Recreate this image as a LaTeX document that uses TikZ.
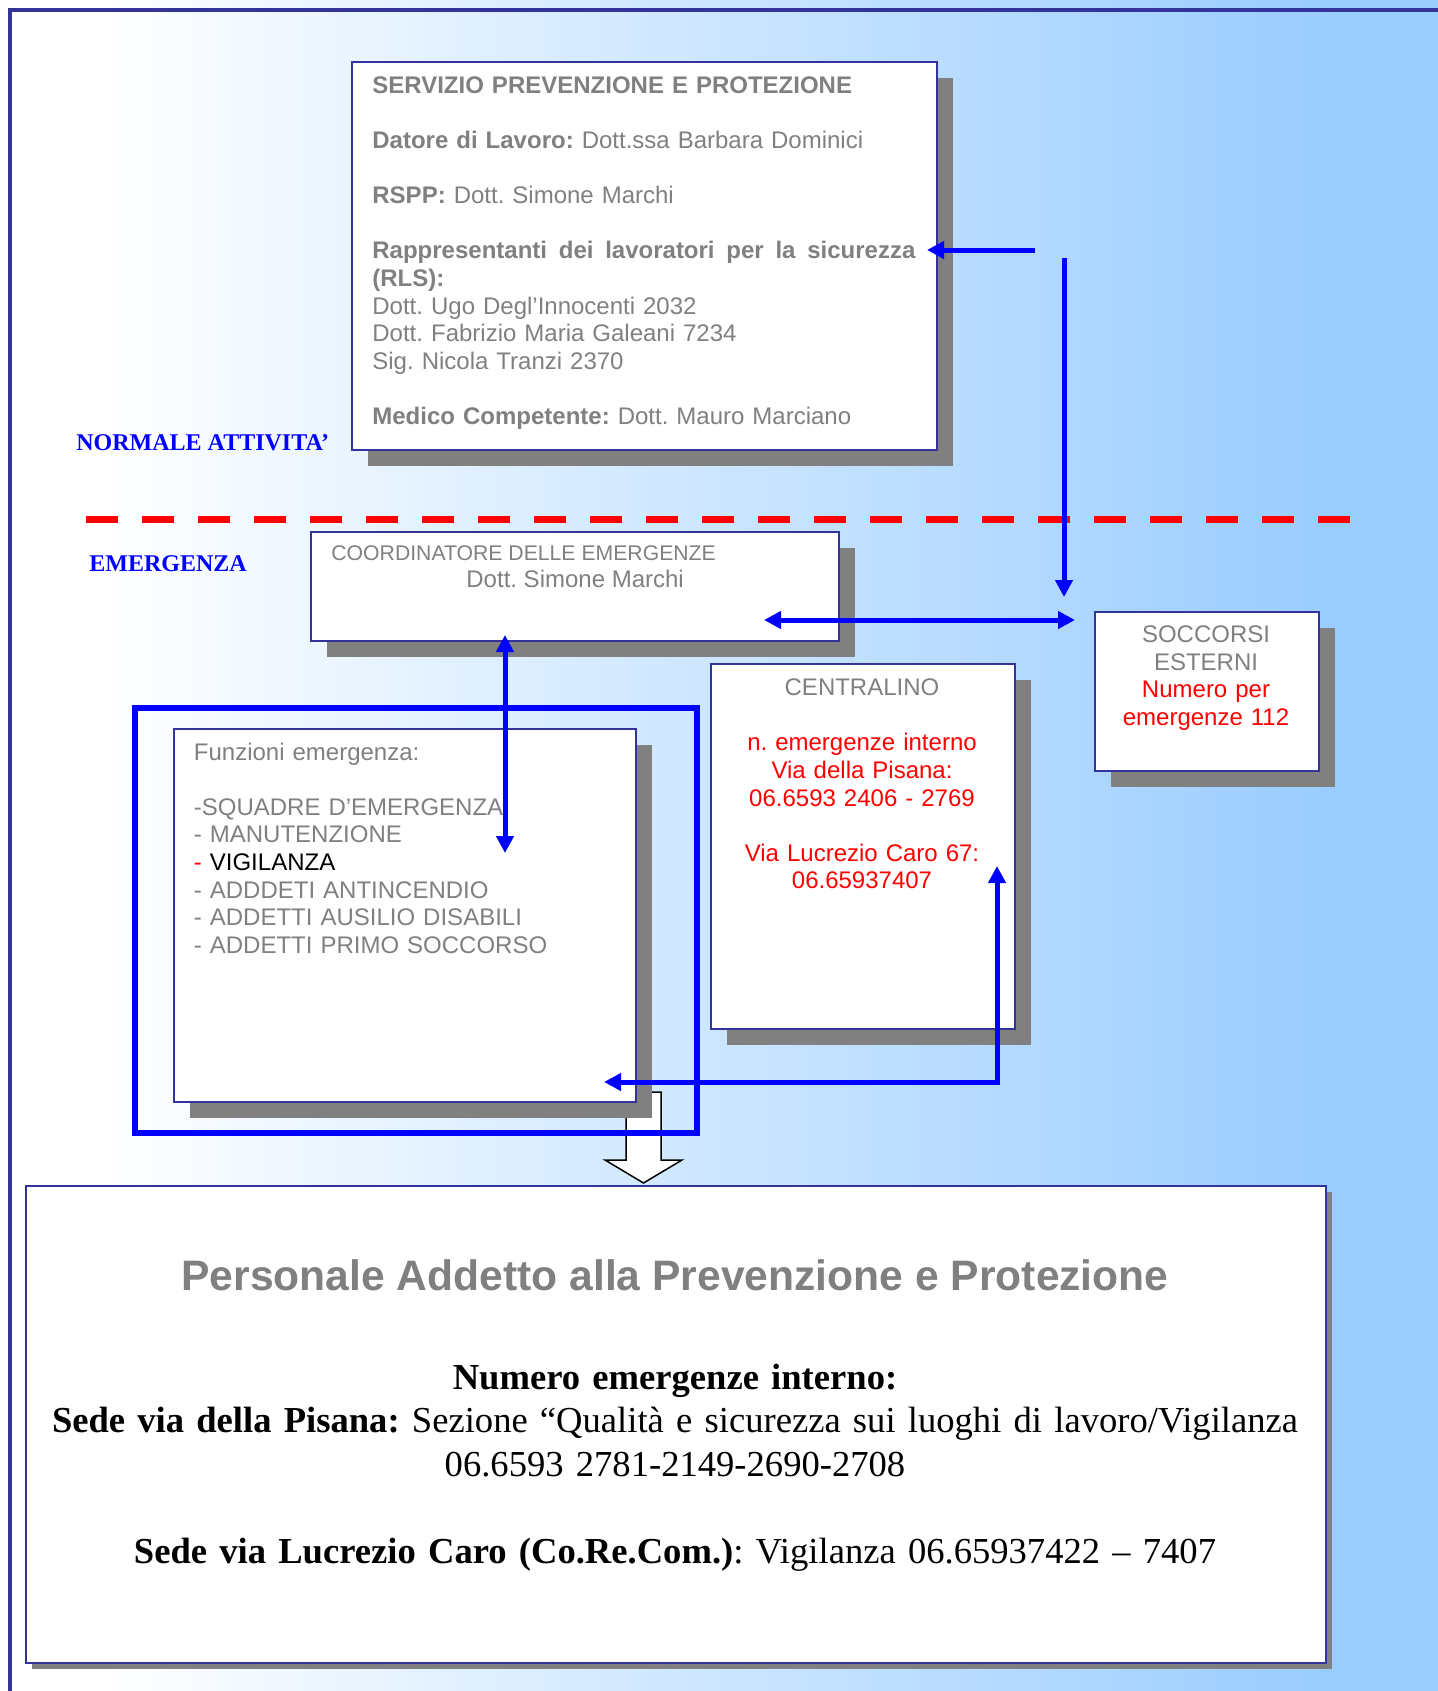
\documentclass[tikz,border=0pt]{standalone}
\usepackage{fontspec}
\setmainfont{Liberation Serif}
\newfontfamily\sansA{Liberation Sans}
\usetikzlibrary{arrows.meta,shadows,calc}
\definecolor{bgblue}{RGB}{153,204,255}
\definecolor{boxblue}{RGB}{51,51,153}
\definecolor{txtgray}{RGB}{128,128,128}
\definecolor{shgray}{RGB}{128,128,128}
\frenchspacing
\tikzset{
  boxnode/.style={draw=boxblue, line width=1pt, fill=white, rectangle, inner sep=0pt, anchor=north west,
    drop shadow={shadow xshift=8pt, shadow yshift=-8pt, fill=shgray, opacity=1}},
  sanstxt/.style={font=\sansA\fontsize{12}{13.8}\selectfont, text=txtgray, inner sep=0pt},
  sidelabel/.style={font=\bfseries\fontsize{12}{14}\selectfont, text=blue, inner sep=0pt, anchor=base west},
  bluearrow/.style={draw=blue, line width=2.5pt, -{Triangle[length=8.5pt,width=8.5pt]}},
  bluearrowboth/.style={draw=blue, line width=2.5pt, {Triangle[length=8.5pt,width=8.5pt]}-{Triangle[length=8.5pt,width=8.5pt]}}
}
\begin{document}
\begin{tikzpicture}[x=0.5pt,y=-0.5pt]
\useasboundingbox (0,0) rectangle (1438,1691);
% background
\fill[white] (0,0) rectangle (1438,1691);
\shade[left color=white,right color=bgblue] (100,0) rectangle (1340,1691);
\fill[bgblue] (1340,0) rectangle (1438,1691);
\draw[boxblue, line width=2pt] (9.5,1691) -- (9.5,10.5) -- (1438,10.5);

% Servizio prevenzione box
\node[boxnode, minimum width=292.5pt, minimum height=194pt] (spp) at (351,61) {};
\node[sanstxt, anchor=base west, text width=271.5pt, align=left] (spptxt) at (372,93.3) {%
\textbf{SERVIZIO PREVENZIONE E PROTEZIONE}\\[13.8pt]
\textbf{Datore di Lavoro:} Dott.ssa Barbara Dominici\\[13.8pt]
\textbf{RSPP:} Dott. Simone Marchi\\[13.8pt]
\makebox[271.5pt][l]{\bfseries Rappresentanti\hfill dei\hfill lavoratori\hfill per\hfill la\hfill sicurezza}\\
\textbf{(RLS):}\\
Dott. Ugo Degl’Innocenti 2032\\
Dott. Fabrizio Maria Galeani 7234\\
Sig. Nicola Tranzi 2370\\[13.8pt]
\textbf{Medico Competente:} Dott. Mauro Marciano};

% side labels and separator
\node[sidelabel] (normale) at (76,450) {NORMALE ATTIVITA’};
\node[sidelabel] (emerg) at (89,571.7) {EMERGENZA};
\coordinate (dashA) at (86,519);
\coordinate (dashB) at (1350,519);
\draw[red, line width=3.5pt, dash pattern=on 16pt off 12pt] (dashA) -- (dashB);

% coordinator
\node[boxnode, minimum width=264pt, minimum height=54.5pt] (coord) at (310,531) {};
\node[sanstxt, font=\sansA\fontsize{10.6}{13.5}\selectfont, anchor=base west] (coordt1) at (331,560.7) {COORDINATORE DELLE EMERGENZE};
\node[sanstxt, anchor=base west] (coordt2) at (466,587.7) {Dott. Simone Marchi};

% soccorsi esterni
\node[boxnode, minimum width=112pt, minimum height=79.5pt] (socc) at (1094,611) {};
\node[sanstxt, anchor=base, text width=110pt, align=center] (socct) at (1206,642.7) {%
SOCCORSI\\ESTERNI\\\textcolor{red}{Numero per}\\\textcolor{red}{emergenze 112}};

% centralino
\node[boxnode, minimum width=152pt, minimum height=182.5pt] (centr) at (710,663) {};
\node[sanstxt, anchor=base, text width=148pt, align=center] (centrt) at (862,695.7) {%
CENTRALINO\\[13.8pt]
\textcolor{red}{n. emergenze interno}\\
\textcolor{red}{Via della Pisana:}\\
\textcolor{red}{06.6593 2406 - 2769}\\[13.8pt]
\textcolor{red}{Via Lucrezio Caro 67:}\\
\textcolor{red}{06.65937407}};

% block arrow down
\draw[black, line width=0.75pt, fill=white] (626,1092) -- (661,1092) -- (661,1160) -- (682,1160) -- (643.5,1183) -- (605,1160) -- (626,1160) -- cycle;

% funzioni emergenza
\node[boxnode, minimum width=231pt, minimum height=186.5pt] (funz) at (173,728) {};
\node[sanstxt, anchor=base west, text width=220pt, align=left] (funzt) at (193.5,760) {%
Funzioni emergenza:\\[13.8pt]
-SQUADRE D’EMERGENZA\\
- MANUTENZIONE\\
\textcolor{red}{-} \textcolor{black}{VIGILANZA}\\
- ADDDETI ANTINCENDIO\\
- ADDETTI AUSILIO DISABILI\\
- ADDETTI PRIMO SOCCORSO};

% blue grouping frame
\node[draw=blue, line width=3pt, rectangle, inner sep=0pt, anchor=north west, minimum width=281pt, minimum height=212.5pt] (grp) at (132,704.5) {};

% bottom box
\node[draw=boxblue, line width=1pt, fill=white, rectangle, inner sep=0pt, anchor=north west,
  minimum width=650pt, minimum height=238.5pt,
  drop shadow={shadow xshift=3pt, shadow yshift=-3pt, fill=shgray, opacity=1}] (pers) at (25,1185) {};
\node[font=\sansA\bfseries\fontsize{21.3}{24}\selectfont, text=txtgray, inner sep=0pt, anchor=base] (perst) at (675,1290) {Personale Addetto alla Prevenzione e Protezione};
\node[font=\fontsize{18.3}{21.75}\selectfont, text=black, inner sep=0pt, anchor=base, text width=648pt, align=center] (numt) at (675,1389) {%
\textbf{Numero emergenze interno:}\\
\textbf{Sede via della Pisana:} Sezione “Qualità e sicurezza sui luoghi di lavoro/Vigilanza\\
06.6593 2781-2149-2690-2708\\[21.75pt]
\textbf{Sede via Lucrezio Caro (Co.Re.Com.)}: Vigilanza 06.65937422 – 7407};

% arrows
\coordinate (a1s) at (1035,250);
\coordinate (a1e) at (927,250);
\draw[bluearrow] (a1s) -- (a1e);
\coordinate (a2s) at (1064,258);
\coordinate (a2e) at (1064,597);
\draw[bluearrow] (a2s) -- (a2e);
\coordinate (a3s) at (764,620);
\coordinate (a3e) at (1075,620);
\draw[bluearrowboth] (a3s) -- (a3e);
\coordinate (a4s) at (505,635);
\coordinate (a4e) at (505,853);
\draw[bluearrowboth] (a4s) -- (a4e);
\coordinate (a5s) at (604,1082);
\coordinate (a5m) at (997,1082);
\coordinate (a5e) at (997,866);
\draw[bluearrowboth] (a5s) -- (a5m) -- (a5e);
\end{tikzpicture}
\end{document}
